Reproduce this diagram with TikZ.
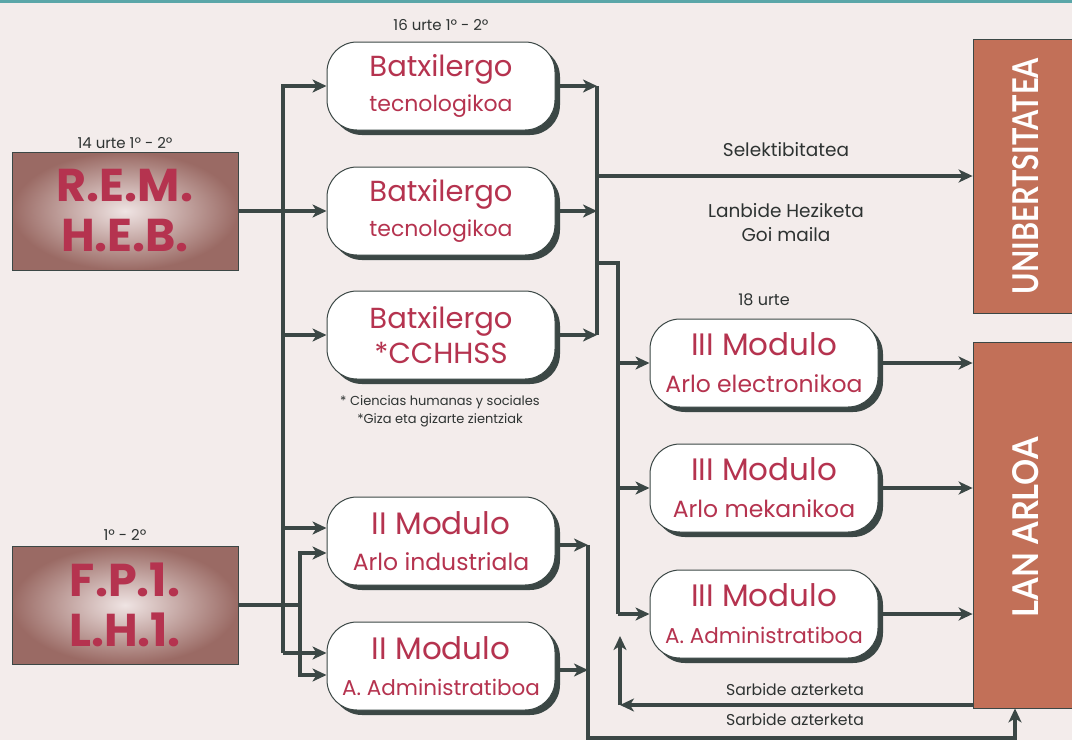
\documentclass[tikz,border=0pt]{standalone}
\usepackage{fontspec}
\usepackage{graphicx}
\setmainfont{Poppins}
\newfontfamily\latofont{Lato}
\usetikzlibrary{arrows.meta,shadows}
\definecolor{bg}{HTML}{F3ECEB}
\definecolor{topline}{HTML}{5AA6A8}
\definecolor{linec}{HTML}{3B4745}
\definecolor{crim}{HTML}{B5334F}
\definecolor{labc}{HTML}{2E3332}
\definecolor{terra}{HTML}{C27058}
\definecolor{brownedge}{HTML}{9A6A64}
\definecolor{brownin}{HTML}{EFE4E3}
\tikzset{
  pill/.style={draw=linec, line width=1pt, fill=white, rounded corners=30pt,
    minimum width=228pt, minimum height=88pt, inner sep=0pt, align=center, text=crim,
    drop shadow={shadow xshift=5pt, shadow yshift=-5pt, fill=linec, opacity=1}},
  startbox/.style={draw=linec, line width=0.8pt, inner color=brownin, outer color=brownedge,
    minimum width=226pt, minimum height=118pt, inner sep=0pt, align=center, text=crim},
  endbox/.style={draw=linec, line width=0.8pt, fill=terra, minimum width=110pt, inner sep=0pt, text=white},
  lab/.style={text=labc, font=\fontsize{15}{24}\selectfont, inner sep=0pt},
  biglab/.style={text=labc, font=\fontsize{18.5}{24}\selectfont, inner sep=0pt},
  small/.style={text=labc, font=\fontsize{13}{18}\selectfont, inner sep=0pt},
  conn/.style={draw=linec, line width=3.5pt},
  arr/.style={draw=linec, line width=3.5pt, -{Stealth[length=14pt,width=13pt,inset=4pt]}},
}
\newcommand{\twolines}[5]{\vbox{\baselineskip=#5pt\lineskiplimit=-100pt\lineskip=0pt\halign{\hfil##\hfil\cr\fontsize{#1}{#5}\selectfont #2\cr\fontsize{#3}{#5}\selectfont #4\cr}}}
\begin{document}
\begin{tikzpicture}[x=1pt,y=-1pt]
\useasboundingbox (0,0) rectangle (1072,740);
\fill[bg] (0,0) rectangle (1072,740);
\fill[topline] (0,0) rectangle (1072,3);

% start boxes
\node[startbox] (rem) at (125,211) {\twolines{46}{\bfseries R.E.M.}{46}{\bfseries H.E.B.}{50}};
\node[startbox] (fp) at (125,605) {\twolines{46}{\bfseries F.P.1.}{46}{\bfseries L.H.1.}{50}};

% pills
\node[pill] (b1) at (441,86) {\raisebox{-3pt}{\twolines{29}{Batxilergo}{22}{tecnologikoa}{35}}};
\node[pill] (b2) at (441,211) {\raisebox{-3pt}{\twolines{29}{Batxilergo}{22}{tecnologikoa}{35}}};
\node[pill] (b3) at (441,335) {\raisebox{-3pt}{\twolines{29}{Batxilergo}{29}{*CCHHSS}{35}}};
\node[pill] (m1) at (441,541) {\twolines{31}{II Modulo}{23.5}{Arlo industriala}{36}};
\node[pill] (m2) at (441,666) {\twolines{31}{II Modulo}{21.5}{A. Administratiboa}{36}};
\node[pill] (t1) at (764,363) {\twolines{31}{III Modulo}{23.5}{Arlo electronikoa}{37}};
\node[pill] (t2) at (764,488) {\twolines{31}{III Modulo}{23.5}{Arlo mekanikoa}{37}};
\node[pill] (t3) at (764,614) {\twolines{31}{III Modulo}{21.5}{A. Administratiboa}{37}};

% end boxes
\node[endbox, minimum height=274pt] (uni) at (1028,176) {};
\node[endbox, minimum height=366pt] (lan) at (1028,525) {};
\node[rotate=90, text=white, inner sep=0pt] (unit) at (1026,176) {\resizebox{236pt}{26pt}{\latofont\bfseries UNIBERTSITATEA}};
\node[rotate=90, text=white, inner sep=0pt] (lant) at (1026,527) {\resizebox{180pt}{26pt}{\latofont\bfseries LAN ARLOA}};

% labels
\node[lab] (l16) at (441,25) {16 urte 1º - 2º};
\node[lab] (l14) at (125,143) {14 urte 1º - 2º};
\node[lab] (l12) at (125,535) {1º - 2º};
\node[lab, font=\fontsize{16}{24}\selectfont] (l18) at (764,300) {18 urte};
\node[biglab] (lsel) at (786,150) {Selektibitatea};
\node[biglab] (llan1) at (786,211) {Lanbide Heziketa};
\node[biglab] (llan2) at (786,235) {Goi maila};
\node[small] (lcc1) at (440,402) {* Ciencias humanas y sociales};
\node[small] (lcc2) at (440,420) {*Giza eta gizarte zientziak};
\node[lab, font=\fontsize{15.7}{24}\selectfont] (sa1) at (795,690) {Sarbide azterketa};
\node[lab, font=\fontsize{15.7}{24}\selectfont] (sa2) at (795,720) {Sarbide azterketa};

% coordinates
\coordinate (L1) at (283,0);
\coordinate (L2) at (300,0);
\coordinate (R1) at (597,0);
\coordinate (R2) at (618,0);
\coordinate (R3) at (588,0);
\coordinate (m1a) at ([yshift=13pt]m1.west);
\coordinate (m1b) at ([yshift=-12pt]m1.west);
\coordinate (m2a) at ([yshift=13pt]m2.west);
\coordinate (m2b) at ([yshift=-9pt]m2.west);
\coordinate (m1o) at ([yshift=-4pt]m1.east);
\coordinate (m2o) at ([yshift=-4pt]m2.east);
\coordinate (br) at (597,263);
\coordinate (bot) at (588,738);
\coordinate (upc) at (1015,738);
\coordinate (s1) at (973,705);
\coordinate (s2) at (620,705);
\coordinate (s3) at (620,636);

% left bus
\draw[arr] (L1 |- m2a) -- (L1 |- b1.west) -- (b1.west);
\draw[arr] (rem.east) -- (b2.west);
\draw[arr] (L1 |- b3.west) -- (b3.west);
\draw[arr] (L1 |- m1a) -- (m1a);
\draw[arr] (L1 |- m2a) -- (m2a);

% FP bus
\draw[conn] (fp.east) -- (L2 |- fp.east);
\draw[arr] (L2 |- m2b) -- (L2 |- m1b) -- (m1b);
\draw[arr] (L2 |- m1b) -- (L2 |- m2b) -- (m2b);

% right bus
\draw[conn] (R1 |- b1.east) -- (R1 |- b3.east);
\draw[arr] (b1.east) -- (R1 |- b1.east);
\draw[arr] (b2.east) -- (R1 |- b2.east);
\draw[arr] (b3.east) -- (R1 |- b3.east);
\draw[arr] (R1 |- uni.west) -- (uni.west);

% branch to III modules
\draw[conn] (br) -- (R2 |- br) -- (R2 |- t3.west);
\draw[arr] (R2 |- t1.west) -- (t1.west);
\draw[arr] (R2 |- t2.west) -- (t2.west);
\draw[arr] (R2 |- t3.west) -- (t3.west);

% III modules to LAN ARLOA
\draw[arr] (t1.east) -- (t1.east -| lan.west);
\draw[arr] (t2.east) -- (t2.east -| lan.west);
\draw[arr] (t3.east) -- (t3.east -| lan.west);

% II modules to bottom
\draw[arr] (m1.east |- m1o) -- (R3 |- m1o);
\draw[arr] (m2.east |- m2o) -- (R3 |- m2o);
\draw[arr] (R3 |- m1o) -- (bot) -- (upc) -- (upc |- lan.south);

% sarbide back
\draw[arr] (lan.west |- s1) -- (s2);
\draw[arr] (s2) -- (s3);
\end{tikzpicture}
\end{document}
